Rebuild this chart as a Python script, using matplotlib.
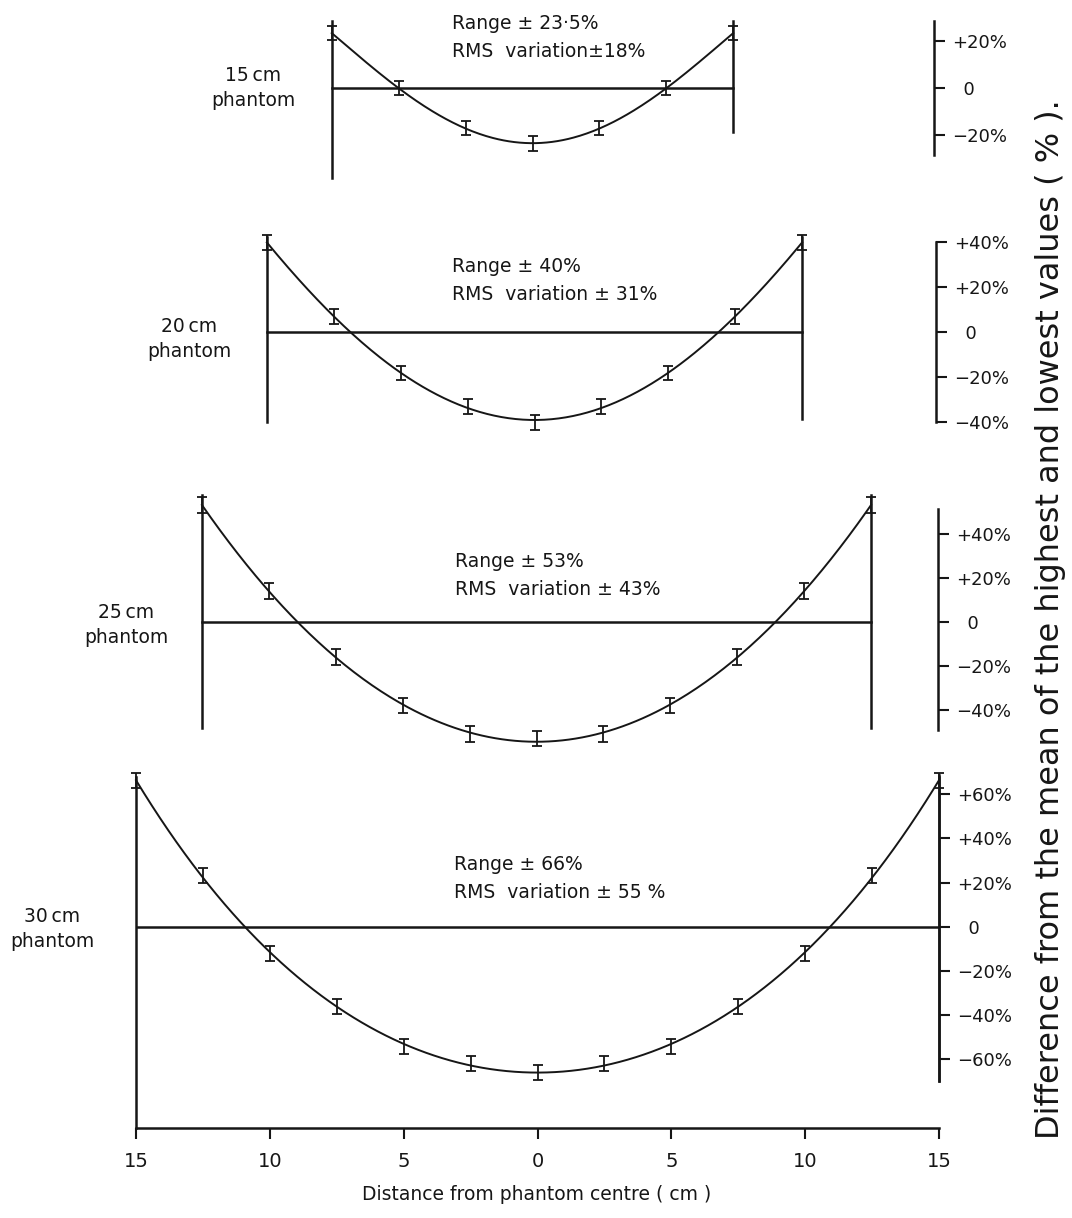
import numpy as np
import matplotlib.pyplot as plt

plt.rcParams['font.family'] = ['DejaVu Sans']

W, H = 1072, 1218
INK = '#161616'

# distance from the centre of each phantom (cm)
x15 = [-7.5, -5, -2.5, 0, 2.5, 5, 7.5]
x20 = [-10, -7.5, -5, -2.5, 0, 2.5, 5, 7.5, 10]
x25 = [-12.5, -10, -7.5, -5, -2.5, 0, 2.5, 5, 7.5, 10, 12.5]
x30 = [-15, -12.5, -10, -7.5, -5, -2.5, 0, 2.5, 5, 7.5, 10, 12.5, 15]

# difference from the mean of the highest and lowest values (%)
y15 = [23.5, 0, -17, -23.5, -17, 0, 23.5]
y20 = [40, 7, -18, -33, -40, -33, -18, 7, 40]
y25 = [53, 14, -16, -38, -51, -53, -51, -38, -16, 14, 53]
y30 = [66, 23, -12, -36, -54, -62, -66, -62, -54, -36, -12, 23, 66]

# half height of the error bars (%)
err15, err20, err25, err30 = 3.0, 3.2, 3.5, 3.4

names = ['15\u2009cm\nphantom', '20\u2009cm\nphantom', '25\u2009cm\nphantom', '30\u2009cm\nphantom']
ranges = ['Range ± 23·5%', 'Range ± 40%', 'Range ± 53%', 'Range ± 66%']
rms = ['RMS  variation±18%', 'RMS  variation ± 31%', 'RMS  variation ± 43%', 'RMS  variation ± 55 %']
yticks15 = [-20, 0, 20]
yticks20 = [-40, -20, 0, 20, 40]
yticks25 = [-40, -20, 0, 20, 40]
yticks30 = [-60, -40, -20, 0, 20, 40, 60]
xticks = [-15, -10, -5, 0, 5, 10, 15]
xticklabels = ['15', '10', '5', '0', '5', '10', '15']

# layout of each panel in pixels: zero line, px per %, shift, limits, line ends
panels = [
    dict(x=x15, y=y15, err=err15, ticks=yticks15, zero=88.3, scale=2.35, dx=-5,
         ylim=(-38, 38), top=28.8, bot_l=-38, bot_r=-18.5, spine=(-28.4, 28.8),
         name_xy=(253, 88), text_xy=(452, 29)),
    dict(x=x20, y=y20, err=err20, ticks=yticks20, zero=332.3, scale=2.25, dx=-3,
         ylim=(-45, 45), top=42.4, bot_l=-39.7, bot_r=-38.5, spine=(-40, 40),
         name_xy=(189, 339), text_xy=(452, 272)),
    dict(x=x25, y=y25, err=err25, ticks=yticks25, zero=621.7, scale=2.2, dx=-1,
         ylim=(-55, 62), top=57.6, bot_l=-48.3, bot_r=-48.3, spine=(-49.2, 51.2),
         name_xy=(126, 625), text_xy=(455, 567)),
    dict(x=x30, y=y30, err=err30, ticks=yticks30, zero=926.7, scale=2.21, dx=0,
         ylim=(-91.1, 72), top=67.9, bot_l=-91.1, bot_r=-70, spine=(-70, 68.6),
         name_xy=(52, 929), text_xy=(454, 870)),
]


def px(x, y):
    return x / W, 1 - y / H


def pct_label(v):
    if v > 0:
        return '+%d%%' % v
    if v < 0:
        return '\u2212%d%%' % -v
    return '  0'


fig = plt.figure(figsize=(W / 100, H / 100), dpi=100)

for i, p in enumerate(panels):
    lo, hi = p['ylim']
    top_px = p['zero'] - hi * p['scale']
    bot_px = p['zero'] - lo * p['scale']
    ax = fig.add_axes([(136 + p['dx']) / W, 1 - bot_px / H, 803 / W, (bot_px - top_px) / H])
    ax.set_xlim(-15, 15)
    ax.set_ylim(lo, hi)
    ax.patch.set_alpha(0)
    for s in ['left', 'top', 'bottom']:
        ax.spines[s].set_visible(False)
    ax.spines['right'].set_bounds(*p['spine'])
    ax.spines['right'].set_linewidth(1.8)
    ax.spines['right'].set_color(INK)

    ax.yaxis.tick_right()
    ax.set_yticks(p['ticks'])
    ax.set_yticklabels([pct_label(v) for v in p['ticks']])
    ax.tick_params(axis='y', direction='out', length=8, width=1.5, pad=5,
                   labelsize=13, colors=INK)

    if i == len(panels) - 1:
        ax.spines['bottom'].set_visible(True)
        ax.spines['bottom'].set_linewidth(1.8)
        ax.spines['bottom'].set_color(INK)
        ax.set_xticks(xticks)
        ax.set_xticklabels(xticklabels)
        ax.tick_params(axis='x', direction='out', length=8, width=1.5, pad=9,
                       labelsize=14, colors=INK)
    else:
        ax.set_xticks([])

    R = max(abs(v) for v in p['x'])
    # phantom edges and the zero line
    ax.plot([-R, -R], [p['bot_l'], p['top']], color=INK, lw=1.8, clip_on=False)
    ax.plot([R, R], [p['bot_r'], p['top']], color=INK, lw=1.8, clip_on=False)
    ax.plot([-R, R], [0, 0], color=INK, lw=1.8)

    # smooth curve through the measured points
    coefs = np.polyfit(p['x'], p['y'], 4)
    xs = np.linspace(-R, R, 300)
    ax.plot(xs, np.polyval(coefs, xs), color=INK, lw=1.4, clip_on=False)
    ax.errorbar(p['x'], p['y'], yerr=p['err'], fmt='none', ecolor=INK,
                elinewidth=1.3, capsize=3.5, capthick=1.3, clip_on=False)

    tx, ty = p['text_xy']
    fig.text(*px(tx, ty), ranges[i], fontsize=13.5, color=INK, va='baseline')
    fig.text(*px(tx, ty + 28), rms[i], fontsize=13.5, color=INK, va='baseline')
    fig.text(*px(*p['name_xy']), names[i], fontsize=13.5, color=INK,
             ha='center', va='center', multialignment='center', linespacing=1.4)

fig.text(*px(537, 1195), 'Distance from phantom centre ( cm )', fontsize=13.5,
         color=INK, ha='center', va='center')
fig.text(*px(1051, 619), 'Difference from the mean of the highest and lowest values ( % ).',
         fontsize=23, color=INK, rotation=90, ha='center', va='center')

fig.savefig('out.png', dpi=100, facecolor='white')
